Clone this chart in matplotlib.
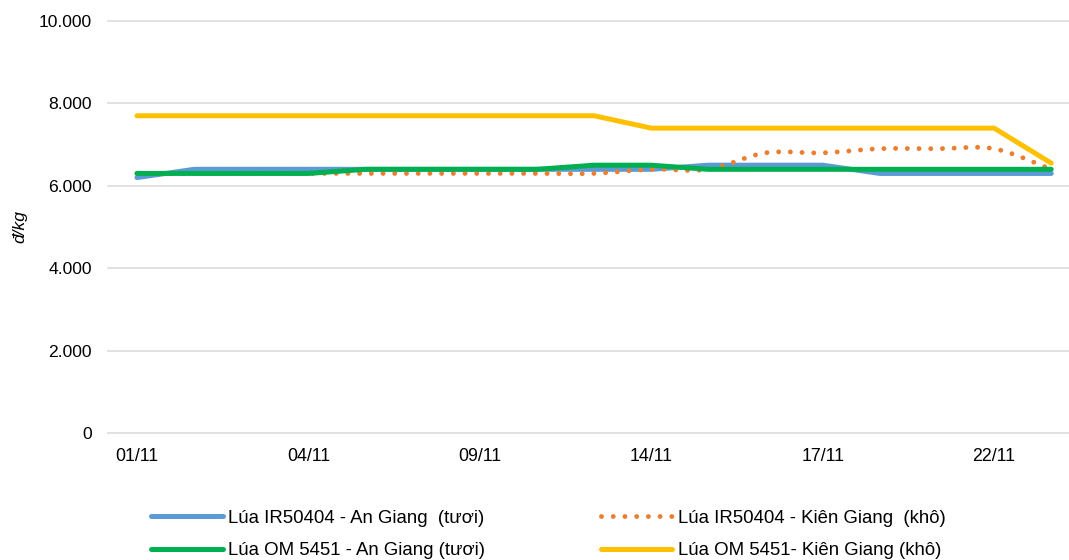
import matplotlib
matplotlib.use("Agg")
import matplotlib.pyplot as plt
from matplotlib.path import Path
from matplotlib.patches import PathPatch
from matplotlib.lines import Line2D
from matplotlib import font_manager as fm

# ---- data ----
dates = ['01/11', '02/11', '03/11', '04/11', '07/11', '08/11', '09/11', '10/11', '11/11',
         '14/11', '15/11', '16/11', '17/11', '18/11', '21/11', '22/11', '23/11']
ir_an_giang = [6200, 6400, 6400, 6400, 6400, 6400, 6400, 6400, 6400,
               6400, 6500, 6500, 6500, 6300, 6300, 6300, 6300]
ir_kien_giang = [6300, 6300, 6300, 6300, 6300, 6300, 6300, 6300, 6300,
                 6400, 6400, 6800, 6800, 6900, 6900, 6900, 6400]
om_an_giang = [6300, 6300, 6300, 6300, 6400, 6400, 6400, 6400, 6500,
               6500, 6400, 6400, 6400, 6400, 6400, 6400, 6400]
om_kien_giang = [7700, 7700, 7700, 7700, 7700, 7700, 7700, 7700, 7700,
                 7400, 7400, 7400, 7400, 7400, 7400, 7400, 6550]
labels = ['Lúa IR50404 - An Giang  (tươi)', 'Lúa IR50404 - Kiên Giang  (khô)',
          'Lúa OM 5451 - An Giang (tươi)', 'Lúa OM 5451- Kiên Giang (khô)']
y_ticks = [0, 2000, 4000, 6000, 8000, 10000]

C_BLUE, C_ORANGE, C_GREEN, C_YELLOW = '#5B9BD5', '#ED7D31', '#00B050', '#FFC000'

names = {f.name for f in fm.fontManager.ttflist}
base_font = 'Liberation Sans' if 'Liberation Sans' in names else 'DejaVu Sans'
plt.rcParams['font.family'] = [base_font, 'DejaVu Sans']

W, H = 1069, 560
fig = plt.figure(figsize=(W / 100, H / 100), dpi=100)
ax = fig.add_axes([108 / W, 1 - 433 / H, (W - 108) / W, (433 - 21) / H])

x = list(range(len(dates)))
LW = 3.6
DOT = (0, (0.01, 2.4))

ax.plot(x, ir_an_giang, color=C_BLUE, lw=LW, solid_capstyle='round', solid_joinstyle='round', zorder=3)

# smoothed dotted line (Catmull-Rom through the data points, as in a smoothed Excel line)
pts = list(zip(x, ir_kien_giang))
verts = [pts[0]]
codes = [Path.MOVETO]
n = len(pts)
for i in range(n - 1):
    p0 = pts[i - 1] if i > 0 else pts[i]
    p1 = pts[i]
    p2 = pts[i + 1]
    p3 = pts[i + 2] if i + 2 < n else pts[i + 1]
    c1 = (p1[0] + (p2[0] - p0[0]) / 6, p1[1] + (p2[1] - p0[1]) / 6)
    c2 = (p2[0] - (p3[0] - p1[0]) / 6, p2[1] - (p3[1] - p1[1]) / 6)
    verts += [c1, c2, p2]
    codes += [Path.CURVE4] * 3
patch = PathPatch(Path(verts, codes), facecolor='none', edgecolor=C_ORANGE, lw=3.5,
                  linestyle=DOT, capstyle='round', zorder=3)
ax.add_patch(patch)

ax.plot(x, om_an_giang, color=C_GREEN, lw=LW, solid_capstyle='round', solid_joinstyle='round', zorder=4)
ax.plot(x, om_kien_giang, color=C_YELLOW, lw=LW, solid_capstyle='round', solid_joinstyle='round', zorder=4)

ax.set_xlim(-0.5075, (W - 137) / 57.14)
ax.set_ylim(0, 10000)
ax.set_yticks(y_ticks)
ax.set_yticklabels([f"{v:,}".replace(',', '.') for v in y_ticks])
ax.set_xticks(x[::3])
ax.set_xticklabels(dates[::3])
for s in ax.spines.values():
    s.set_visible(False)
ax.tick_params(axis='y', length=0, pad=11.5, labelsize=12.6, colors='#000000')
ax.tick_params(axis='x', length=0, pad=10.5, labelsize=12.8, colors='#000000')
ax.yaxis.grid(True, color='#D9D9D9', lw=1.1)
ax.xaxis.grid(False)
ax.set_axisbelow(True)
for gl in ax.get_ygridlines():
    gl.set_clip_on(False)

fig.text(20 / W, 1 - 227 / H, 'đ/kg', rotation=90, ha='center', va='center',
         fontsize=12.5, style='italic')

handles = [Line2D([], [], color=C_BLUE, lw=LW, solid_capstyle='round'),
           Line2D([], [], color=C_GREEN, lw=LW, solid_capstyle='round'),
           Line2D([], [], color=C_ORANGE, lw=3.5, linestyle=DOT, dash_capstyle='round'),
           Line2D([], [], color=C_YELLOW, lw=LW, solid_capstyle='round')]
leg_labels = [labels[0], labels[2], labels[1], labels[3]]
fig.legend(handles, leg_labels, loc='center left', bbox_to_anchor=(151 / W, 1 - 534.5 / H),
           ncol=2, frameon=False, fontsize=13.4, handlelength=3.85, handletextpad=0.3,
           columnspacing=6.2, labelspacing=0.85, borderpad=0, borderaxespad=0)

fig.savefig('out.png', dpi=100, facecolor='white')
